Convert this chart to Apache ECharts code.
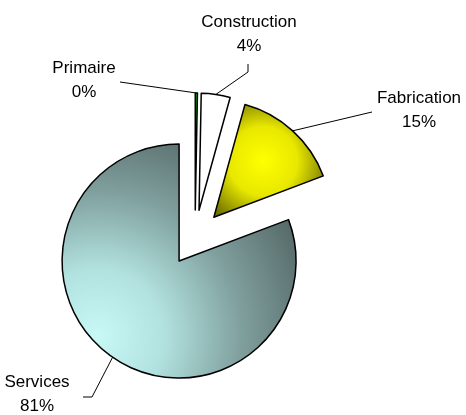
<!DOCTYPE html>
<html>
<head>
<meta charset="utf-8">
<script src="https://cdn.jsdelivr.net/npm/echarts@6/dist/echarts.min.js"></script>
<style>
html, body { margin: 0; padding: 0; background: #fff; }
#chart { width: 466px; height: 415px; }
</style>
</head>
<body>
<div id="chart"></div>
<script>
// secteurs d'activite
var categories = ['Primaire', 'Construction', 'Fabrication', 'Services'];
var values = [0.3, 4, 15, 81];

// etiquettes : centre du texte, point d'accroche du trait, coude eventuel
var labelPos = {
    'Primaire':     {text: [84, 80],   anchor: [120, 82], bend: null},
    'Construction': {text: [249, 34],  anchor: [248, 64], bend: [248, 72]},
    'Fabrication':  {text: [419, 110], anchor: [372, 112], bend: null},
    'Services':     {text: [37, 394],  anchor: [83, 397], bend: [92, 397]}
};

var EXPLODE = 28;
var CENTER = [195, 238];
var RADIUS = 117;

var sliceColors = [
    '#00b400',
    '#ffffff',
    {
        type: 'radial', x: 0.45, y: 0.5, r: 0.62,
        colorStops: [
            {offset: 0, color: '#ffff00'},
            {offset: 0.5, color: '#e8e800'},
            {offset: 1, color: '#707000'}
        ]
    },
    {
        type: 'radial', x: 0.15, y: 0.82, r: 0.95,
        colorStops: [
            {offset: 0, color: '#c8f9f6'},
            {offset: 0.3, color: '#b2e2df'},
            {offset: 0.65, color: '#7f9f9d'},
            {offset: 1, color: '#566a69'}
        ]
    }
];

var myChart = echarts.init(document.getElementById('chart'));

var pieData = [];
var labelData = [];
for (var i = 0; i < categories.length; i++) {
    pieData.push({
        name: categories[i],
        value: values[i],
        selected: true,
        itemStyle: {color: sliceColors[i]}
    });
    labelData.push({name: categories[i], value: values[i]});
}

var option = {
    animation: false,
    series: [
        {
            // les parts, toutes detachees
            type: 'pie',
            center: CENTER,
            radius: RADIUS,
            startAngle: 90,
            selectedMode: 'multiple',
            selectedOffset: EXPLODE,
            itemStyle: {
                borderColor: '#000',
                borderWidth: 1.5
            },
            label: {show: false},
            labelLine: {show: false},
            emphasis: {disabled: true},
            silent: true,
            data: pieData
        },
        {
            // seulement les etiquettes
            type: 'pie',
            center: CENTER,
            radius: RADIUS,
            startAngle: 90,
            selectedMode: false,
            silent: true,
            avoidLabelOverlap: false,
            itemStyle: {color: 'rgba(0,0,0,0)', borderWidth: 0},
            label: {
                show: true,
                position: 'outside',
                formatter: function (p) {
                    return p.name + '\n' + Math.round(p.percent) + '%';
                },
                fontFamily: 'Liberation Sans, Arial, sans-serif',
                fontSize: 17,
                lineHeight: 24,
                color: '#000',
                align: 'center'
            },
            labelLine: {
                show: true,
                length: 10,
                length2: 10,
                lineStyle: {color: '#000', width: 1}
            },
            labelLayout: function (params) {
                var pos = labelPos[categories[params.dataIndex]];
                var res = {
                    x: pos.text[0],
                    y: pos.text[1],
                    align: 'center',
                    verticalAlign: 'middle'
                };
                var lp = params.labelLinePoints;
                if (lp) {
                    var dx = lp[1][0] - lp[0][0];
                    var dy = lp[1][1] - lp[0][1];
                    var len = Math.sqrt(dx * dx + dy * dy) || 1;
                    var start = [lp[0][0] + dx / len * EXPLODE, lp[0][1] + dy / len * EXPLODE];
                    var pts = [start];
                    if (pos.bend) pts.push(pos.bend);
                    pts.push(pos.anchor);
                    res.labelLinePoints = pts;
                }
                return res;
            },
            emphasis: {disabled: true},
            data: labelData
        }
    ]
};

myChart.setOption(option);
</script>
</body>
</html>
